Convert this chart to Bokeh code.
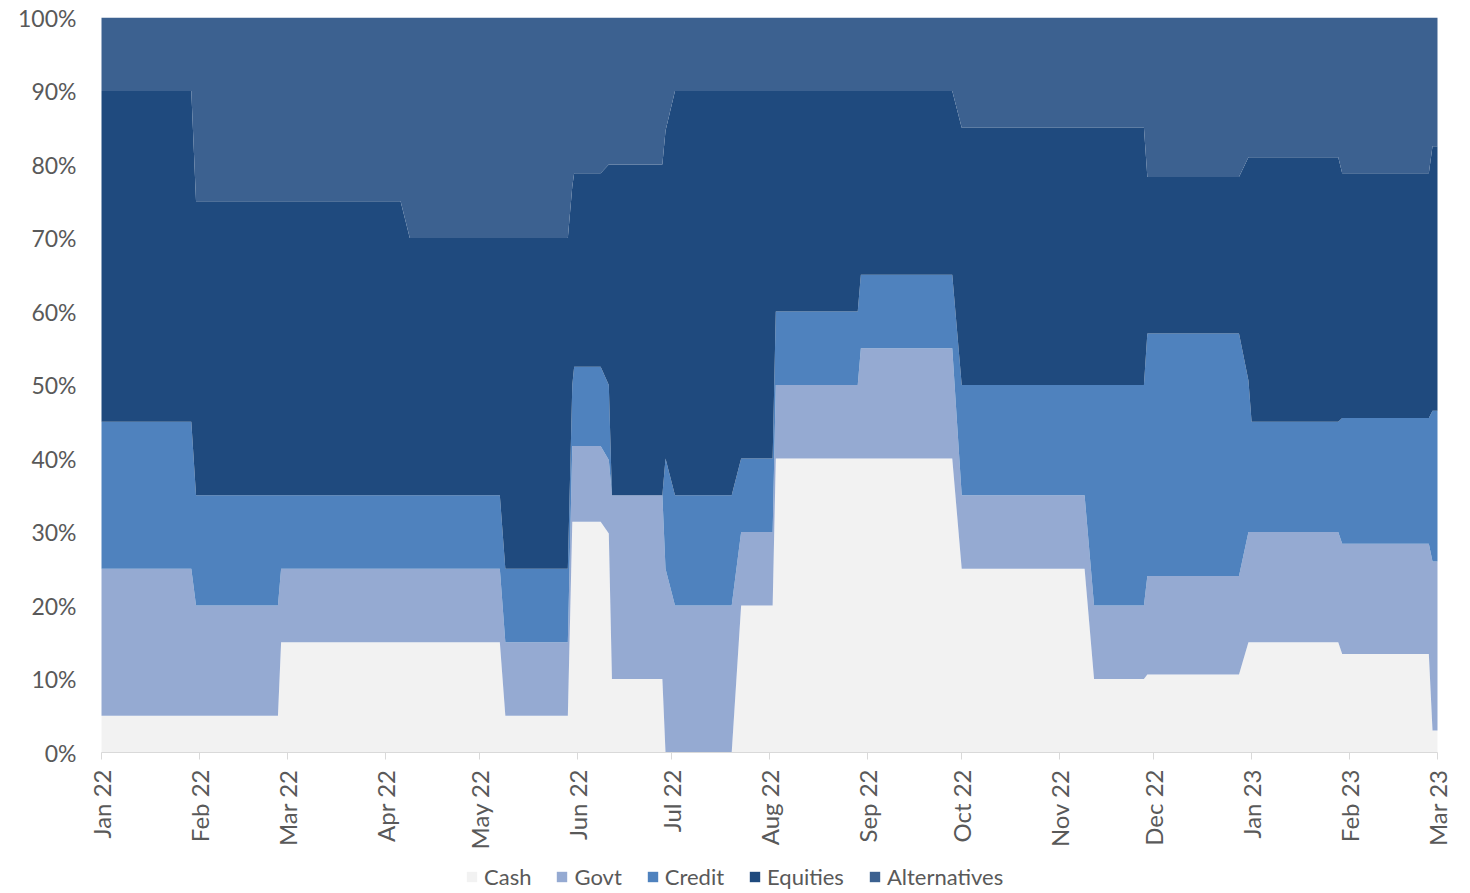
import math
import pandas as pd
from bokeh.plotting import figure
from bokeh.models import (ColumnDataSource, FixedTicker, DatetimeTickFormatter,
                          PrintfTickFormatter, Legend, LegendItem, Range1d)
from bokeh.embed import file_html
from bokeh.resources import INLINE

# ---- data (allocation shares, % of portfolio) ----
dates = [
    "2022-01-01", "2022-01-29 12:00", "2022-01-31", "2022-02-26", "2022-02-27",
    "2022-04-05 22:00", "2022-04-08 20:00", "2022-05-07 10:00", "2022-05-09 04:00",
    "2022-05-29", "2022-05-30 10:00", "2022-05-31", "2022-06-08 10:00", "2022-06-11",
    "2022-06-12", "2022-06-28", "2022-06-29", "2022-07-02", "2022-07-20", "2022-07-23",
    "2022-08-02", "2022-08-03", "2022-08-29", "2022-08-30", "2022-09-28", "2022-10-01",
    "2022-11-09", "2022-11-12", "2022-11-27 20:00", "2022-11-28 22:00", "2022-12-28",
    "2022-12-31", "2023-01-01", "2023-01-28 12:00", "2023-01-29 18:00",
    "2023-02-26 06:00", "2023-02-27 10:00", "2023-03-01",
]
cash = [5, 5, 5, 5, 15, 15, 15, 15, 5, 5, 31.4, 31.4, 31.4, 29.8, 10, 10, 0, 0, 0, 20,
        20, 40, 40, 40, 40, 25, 25, 10, 10, 10.6, 10.6, 15, 15, 15, 13.4, 13.4, 3, 3]
govt = [20, 20, 15, 15, 10, 10, 10, 10, 10, 10, 10.3, 10.3, 10.3, 10, 25, 25, 25, 20, 20, 10,
        10, 10, 10, 15, 15, 10, 10, 10, 10, 13.4, 13.4, 15, 15, 15, 15, 15, 23, 23]
credit = [20, 20, 15, 15, 10, 10, 10, 10, 10, 10, 8.3, 10.8, 10.8, 10.2, 0, 0, 15, 15, 15, 10,
          10, 10, 10, 10, 10, 15, 15, 30, 30, 33, 33, 20.6, 15, 15, 17.1, 17.1, 20.5, 20.5]
equities = [45, 45, 40, 40, 40, 40, 35, 35, 45, 45, 27, 26.3, 26.3, 30, 45, 45, 44.6, 55, 55, 50,
            50, 30, 30, 25, 25, 35, 35, 35, 35, 21.3, 21.3, 30.4, 36, 36, 33.3, 33.3, 36, 36]
alternatives = [10, 10, 25, 25, 25, 25, 30, 30, 30, 30, 23, 21.2, 21.2, 20, 20, 20, 15.4, 10, 10, 10,
                10, 10, 10, 10, 10, 15, 15, 15, 15, 21.7, 21.7, 19, 19, 19, 21.2, 21.2, 17.5, 17.5]

series = ["Cash", "Govt", "Credit", "Equities", "Alternatives"]
colors = ["#f2f2f2", "#95aad2", "#4f82be", "#1f4a7e", "#3c6190"]

tick_dates = ["2022-01-01", "2022-02-01", "2022-03-01", "2022-04-01", "2022-05-01",
              "2022-06-01", "2022-07-01", "2022-08-01", "2022-09-01", "2022-10-01",
              "2022-11-01", "2022-12-01", "2023-01-01", "2023-02-01", "2023-03-01"]
y_ticks = [0, 10, 20, 30, 40, 50, 60, 70, 80, 90, 100]

df = pd.DataFrame({"date": pd.to_datetime(dates, format="mixed"), "Cash": cash, "Govt": govt,
                   "Credit": credit, "Equities": equities, "Alternatives": alternatives})
src = ColumnDataSource(df)

FONT = "Lato"
TXT = "#595959"

x0 = pd.Timestamp(tick_dates[0])
x1 = pd.Timestamp(tick_dates[-1])

# data area: 1336 x 735 px; the frame is padded so the axis labels and the
# legend (drawn inside it) are not clipped
DATA_W, DATA_H = 1336, 735
PAD_L, PAD_R = 17, 18
FRAME_W = DATA_W + PAD_L + PAD_R
FRAME_H = 875
px_per_day = DATA_W / ((x1 - x0) / pd.Timedelta(days=1))
x_start = x0 - pd.Timedelta(days=PAD_L / px_per_day)
x_end = x1 + pd.Timedelta(days=PAD_R / px_per_day)
y_min = -(FRAME_H - DATA_H) / DATA_H * 100

p = figure(x_axis_type="datetime", frame_width=FRAME_W, frame_height=FRAME_H,
           x_range=Range1d(x_start, x_end), y_range=Range1d(y_min, 100),
           output_backend="svg", toolbar_location=None,
           min_border_left=101 - PAD_L, min_border_top=17,
           min_border_right=1470 - (101 - PAD_L) - FRAME_W, min_border_bottom=0)
p.outline_line_color = None
p.xgrid.visible = False
p.ygrid.visible = False
p.background_fill_color = "white"

rs = p.varea_stack(series, x="date", source=src, color=colors)

# x axis (drawn at y = 0)
p.xaxis.fixed_location = 0
p.xaxis.bounds = (x0.to_pydatetime(), x1.to_pydatetime())
p.xaxis.ticker = FixedTicker(ticks=[pd.Timestamp(d).value // 10**6 for d in tick_dates])
fmt = "%b %y"
p.xaxis.formatter = DatetimeTickFormatter(days=fmt, months=fmt, years=fmt, hours=fmt,
                                          hourmin=fmt, minutes=fmt, minsec=fmt, seconds=fmt,
                                          milliseconds=fmt, microseconds=fmt)
p.xaxis.major_label_orientation = math.pi / 2
p.xaxis.axis_line_color = "#d9d9d9"
p.xaxis.major_tick_line_color = "#d9d9d9"
p.xaxis.major_tick_out = 7
p.xaxis.major_tick_in = 0
p.xaxis.minor_tick_line_color = None
p.xaxis.major_label_standoff = 10
p.xaxis.major_label_text_font = FONT
p.xaxis.major_label_text_font_size = "24px"
p.xaxis.major_label_text_color = TXT

# y axis
p.yaxis.ticker = FixedTicker(ticks=y_ticks)
p.yaxis.formatter = PrintfTickFormatter(format="%d%%")
p.yaxis.axis_line_color = None
p.yaxis.major_tick_line_color = None
p.yaxis.minor_tick_line_color = None
p.yaxis.major_label_standoff = 2
p.yaxis.major_label_text_font = FONT
p.yaxis.major_label_text_font_size = "23px"
p.yaxis.major_label_text_color = TXT

legend = Legend(items=[LegendItem(label=n, renderers=[r]) for n, r in zip(series, rs)],
                orientation="horizontal", location=(364 + PAD_L, 2),
                border_line_color=None, background_fill_alpha=0,
                label_text_font=FONT, label_text_font_size="22px", label_text_color=TXT,
                glyph_width=13, glyph_height=13, label_standoff=6, spacing=24,
                label_height=26, padding=0, margin=0)
p.add_layout(legend, "center")

open("out.html", "w").write(file_html(p, INLINE))
